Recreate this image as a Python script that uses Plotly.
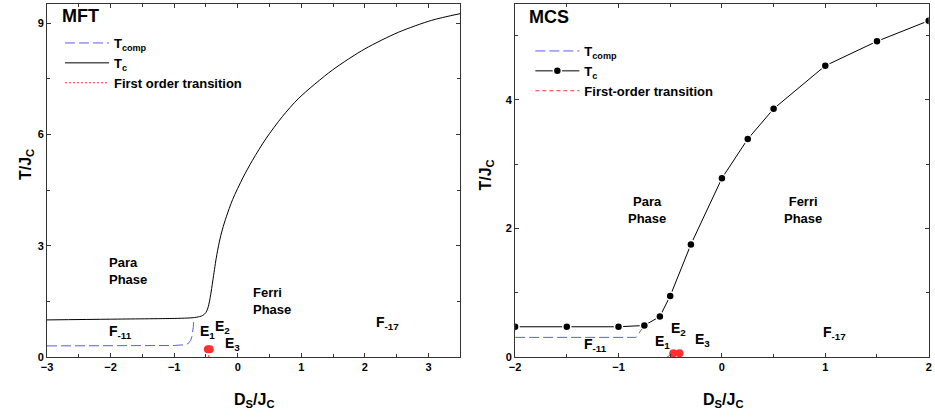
import plotly.graph_objects as go

# ---------------- data ----------------
# MFT panel
mft_tc_ds = [-3, -2, -1, -0.8, -0.7, -0.6, -0.55, -0.5, -0.47, -0.44, -0.41, -0.39, -0.34, -0.29,
             -0.24, -0.18, -0.08, 0.08, 0.23, 0.44, 0.7, 0.96, 1.49, 2.0, 2.53, 3.05, 3.5]
mft_tc_t = [1.0, 1.02, 1.04, 1.05, 1.06, 1.09, 1.12, 1.2, 1.32, 1.54, 1.85, 2.08, 2.65, 3.1,
            3.45, 3.78, 4.25, 4.83, 5.3, 5.88, 6.48, 6.98, 7.74, 8.31, 8.76, 9.08, 9.26]
mft_comp_ds = [-3, -2, -1, -0.85, -0.78, -0.74, -0.72, -0.70, -0.69]
mft_comp_t = [0.30, 0.30, 0.31, 0.33, 0.36, 0.45, 0.56, 0.8, 1.05]
mft_fo_ds = [-0.455, -0.455]
mft_fo_t = [0.0, 0.2]
mft_blob_ds = [-0.47, -0.44]
mft_blob_t = [0.21, 0.21]

# MCS panel
mcs_tc_ds = [-2, -1.5, -1, -0.75, -0.6, -0.5, -0.3, 0, 0.25, 0.5, 1, 1.5, 2]
mcs_tc_t = [0.47, 0.47, 0.47, 0.49, 0.63, 0.95, 1.75, 2.78, 3.39, 3.86, 4.53, 4.91, 5.23]
mcs_comp_ds = [-2, -0.83, -0.76]
mcs_comp_t = [0.305, 0.305, 0.47]
mcs_fo_ds = [-0.53, -0.47]
mcs_fo_t = [0.0, 0.06]
mcs_blob_ds = [-0.47, -0.41]
mcs_blob_t = [0.06, 0.06]

# tick labels
mft_xticks = [-3, -2, -1, 0, 1, 2, 3]
mft_yticks = [0, 3, 6, 9]
mcs_xticks = [-2, -1, 0, 1, 2]
mcs_yticks = [0, 2, 4]

FONT = "Arial, Liberation Sans, sans-serif"
BLUE = "#5b5bf5"
RED = "#ff3030"

fig = go.Figure()

# ---- MFT traces ----
fig.add_trace(go.Scatter(x=mft_comp_ds, y=mft_comp_t, mode="lines", name="T<sub>comp</sub>",
                         line=dict(color=BLUE, width=1, dash="10px,4px"),
                         xaxis="x", yaxis="y", legend="legend"))
fig.add_trace(go.Scatter(x=mft_tc_ds, y=mft_tc_t, mode="lines", name="T<sub>c</sub>",
                         line=dict(color="black", width=1, shape="spline", smoothing=0.8),
                         xaxis="x", yaxis="y", legend="legend"))
fig.add_trace(go.Scatter(x=mft_fo_ds, y=mft_fo_t, mode="lines", name="First order transition",
                         line=dict(color=RED, width=1, dash="2px,2px"),
                         xaxis="x", yaxis="y", legend="legend"))
fig.add_trace(go.Scatter(x=mft_blob_ds, y=mft_blob_t, mode="markers", showlegend=False,
                         marker=dict(color=RED, size=8, line=dict(width=0)),
                         xaxis="x", yaxis="y"))

# ---- MCS traces ----
fig.add_trace(go.Scatter(x=mcs_comp_ds, y=mcs_comp_t, mode="lines", name="T<sub>comp</sub>",
                         line=dict(color=BLUE, width=1, dash="10px,4px"),
                         xaxis="x2", yaxis="y2", legend="legend2"))
fig.add_trace(go.Scatter(x=mcs_tc_ds, y=mcs_tc_t, mode="lines+markers", name="T<sub>c</sub>",
                         line=dict(color="black", width=1),
                         marker=dict(color="black", size=8, line=dict(color="white", width=1.5)),
                         xaxis="x2", yaxis="y2", legend="legend2"))
fig.add_trace(go.Scatter(x=mcs_fo_ds, y=mcs_fo_t, mode="lines", name="First-order transition",
                         line=dict(color=RED, width=1, dash="4px,3px"),
                         xaxis="x2", yaxis="y2", legend="legend2"))
fig.add_trace(go.Scatter(x=mcs_blob_ds, y=mcs_blob_t, mode="markers", showlegend=False,
                         marker=dict(color=RED, size=8, line=dict(width=0)),
                         xaxis="x2", yaxis="y2"))

W, H = 935, 418
ml, mr, mt, mb = 47, 3, 4, 61
pw = W - ml - mr
ph = H - mt - mb

def xd(px0, px1):
    return [(px0 - ml) / pw, (px1 - ml) / pw]

axis_common = dict(showline=True, linecolor="#333", linewidth=1, mirror="allticks",
                   ticks="inside", ticklen=4, tickcolor="#333", showgrid=False, zeroline=False,
                   tickfont=dict(family=FONT, size=11, color="black", weight="bold"))

fig.update_layout(
    width=W, height=H, margin=dict(l=ml, r=mr, t=mt, b=mb),
    paper_bgcolor="white", plot_bgcolor="white",
    font=dict(family=FONT, color="black"),
    xaxis=dict(domain=xd(47, 461.7), range=[-3, 3.5], tickvals=mft_xticks,
               minor=dict(ticks="inside", ticklen=3, dtick=0.5, tick0=0, tickcolor="#333"),
               anchor="y", **axis_common),
    yaxis=dict(domain=[0, 1], range=[0, 9.52], tickvals=mft_yticks,
               minor=dict(ticks="inside", ticklen=3, dtick=1.5, tick0=0, tickcolor="#333"),
               anchor="x", **axis_common),
    xaxis2=dict(domain=xd(516.7, 931.7), range=[-2, 2], tickvals=mcs_xticks,
                minor=dict(ticks="inside", ticklen=3, dtick=0.5, tick0=0, tickcolor="#333"),
                anchor="y2", **axis_common),
    yaxis2=dict(domain=[0, 1], range=[0, 5.49], tickvals=mcs_yticks,
                minor=dict(ticks="inside", ticklen=3, dtick=1, tick0=0, tickcolor="#333"),
                anchor="x2", **axis_common),
    legend=dict(x=(60 - ml) / pw, y=1 - (28 - mt) / ph, xanchor="left", yanchor="top",
                bgcolor="rgba(0,0,0,0)", font=dict(family=FONT, size=13, weight="bold"),
                tracegroupgap=0, itemwidth=44),
    legend2=dict(x=(532 - ml) / pw, y=1 - (36 - mt) / ph, xanchor="left", yanchor="top",
                 bgcolor="rgba(0,0,0,0)", font=dict(family=FONT, size=13, weight="bold"),
                 tracegroupgap=0, itemwidth=44),
)

ann = []
def A(text, x, y, xref, yref, size=13, xanchor="left", yanchor="middle", align="left", angle=0):
    ann.append(dict(text=text, x=x, y=y, xref=xref, yref=yref, showarrow=False,
                    xanchor=xanchor, yanchor=yanchor, align=align, textangle=angle,
                    font=dict(family=FONT, size=size, color="black", weight="bold")))

# panel titles
A("MFT", (60 - ml) / pw, 1 - (16 - mt) / ph, "paper", "paper", size=18)
A("MCS", (529 - ml) / pw, 1 - (17 - mt) / ph, "paper", "paper", size=18)

# axis titles
A("D<sub>S</sub>/J<sub>C</sub>", (255 - ml) / pw, 1 - (400 - mt) / ph, "paper", "paper",
  size=16, xanchor="center")
A("D<sub>S</sub>/J<sub>C</sub>", (725 - ml) / pw, 1 - (400 - mt) / ph, "paper", "paper",
  size=16, xanchor="center")
A("T/J<sub>C</sub>", (27 - ml) / pw, 1 - (165 - mt) / ph, "paper", "paper",
  size=16, xanchor="center", angle=-90)
A("T/J<sub>C</sub>", (487 - ml) / pw, 1 - (175 - mt) / ph, "paper", "paper",
  size=16, xanchor="center", angle=-90)

# MFT region labels
A("Para<br>Phase", -2.05, 2.31, "x", "y")
A("Ferri<br>Phase", 0.21, 1.52, "x", "y")
A("F<sub>-11</sub>", -2.05, 0.68, "x", "y", size=14)
A("F<sub>-17</sub>", 2.15, 0.92, "x", "y", size=14)
A("E<sub>1</sub>", -0.63, 0.68, "x", "y", size=14)
A("E<sub>2</sub>", -0.39, 0.80, "x", "y", size=14)
A("E<sub>3</sub>", -0.225, 0.35, "x", "y", size=14)

# MCS region labels
A("Para<br>Phase", -0.72, 2.28, "x2", "y2", xanchor="center", align="center")
A("Ferri<br>Phase", 0.78, 2.28, "x2", "y2", xanchor="center", align="center")
A("F<sub>-11</sub>", -1.35, 0.18, "x2", "y2", size=14)
A("F<sub>-17</sub>", 0.955, 0.38, "x2", "y2", size=14)
A("E<sub>1</sub>", -0.67, 0.23, "x2", "y2", size=14)
A("E<sub>2</sub>", -0.51, 0.43, "x2", "y2", size=14)
A("E<sub>3</sub>", -0.28, 0.265, "x2", "y2", size=14)

fig.update_layout(annotations=ann)
fig.write_html("out.html", config={"displayModeBar": False},
               post_script="document.body.style.margin='0';")
